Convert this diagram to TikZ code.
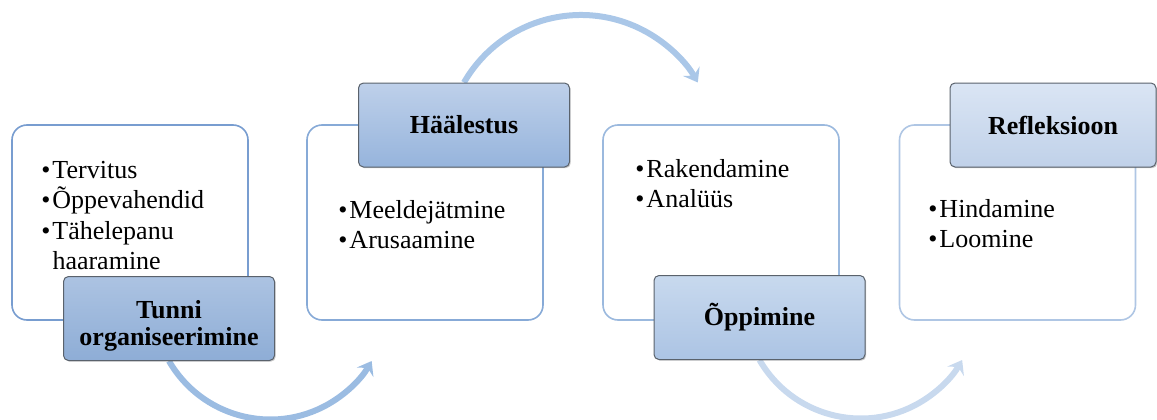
\documentclass[tikz,border=0pt]{standalone}
\usepackage{fontspec}
\setmainfont{Liberation Serif}
\usetikzlibrary{arrows.meta,shadows}

% card outlines
\definecolor{cardA}{RGB}{120,157,208}
\definecolor{cardB}{RGB}{135,170,215}
\definecolor{cardC}{RGB}{155,185,222}
\definecolor{cardD}{RGB}{175,198,228}
% stage headers (top / bottom of the gradient)
\definecolor{stAtop}{RGB}{172,195,226}
\definecolor{stAbot}{RGB}{142,173,214}
\definecolor{stBtop}{RGB}{190,208,234}
\definecolor{stBbot}{RGB}{150,180,220}
\definecolor{stCtop}{RGB}{200,217,238}
\definecolor{stCbot}{RGB}{172,196,228}
\definecolor{stDtop}{RGB}{218,229,244}
\definecolor{stDbot}{RGB}{192,209,233}
\definecolor{stageline}{RGB}{90,98,108}
% curved flow arrows
\definecolor{flowA}{RGB}{155,188,226}
\definecolor{flowB}{RGB}{170,199,232}
\definecolor{flowC}{RGB}{200,217,238}

\pgfdeclarelayer{background}
\pgfsetlayers{background,main}

\begin{document}
\begin{tikzpicture}[x=0.5pt,y=0.5pt,
  card/.style={draw=#1, line width=0.8pt, fill=white, rounded corners=7.5pt,
    minimum width=118pt, minimum height=97.5pt, inner sep=0pt},
  stage/.style={draw=stageline, line width=0.5pt, rounded corners=2.5pt,
    minimum width=105.5pt, minimum height=42pt, inner sep=0pt, align=center,
    font=\fontsize{13}{13.2}\selectfont\bfseries,
    drop shadow={shadow xshift=0.6pt, shadow yshift=-0.6pt, opacity=0.3, fill=black!70}},
  stagetext/.style={inner sep=0pt, align=center, font=\fontsize{13}{13.4}\selectfont\bfseries},
  items/.style={anchor=base west, inner sep=0pt, font=\fontsize{13}{15.2}\selectfont},
  flow/.style={line width=3pt, draw=#1,
    -{Stealth[length=6.5pt, width=9.5pt, inset=2.5pt]}}]

\useasboundingbox (0,0) rectangle (1157,419);

% white cards
\node[card=cardA] (c1) at (130,196.5) {};
\node[card=cardB] (c2) at (425,196.5) {};
\node[card=cardC] (c3) at (721,196.5) {};
\node[card=cardD] (c4) at (1017.5,196.5) {};

% bullet lists
\node[items] (t1) at (41,241) {\begin{tabular}[t]{@{}l@{\hspace{1pt}}l@{}}
  •&Tervitus\\ •&Õppevahendid\\ •&Tähelepanu\\ &haaramine\end{tabular}};
\node[items] (t2) at (338,201) {\begin{tabular}[t]{@{}l@{\hspace{1pt}}l@{}}
  •&Meeldejätmine\\ •&Arusaamine\end{tabular}};
\node[items] (t3) at (635,242) {\begin{tabular}[t]{@{}l@{\hspace{1pt}}l@{}}
  •&Rakendamine\\ •&Analüüs\end{tabular}};
\node[items] (t4) at (928,202) {\begin{tabular}[t]{@{}l@{\hspace{1pt}}l@{}}
  •&Hindamine\\ •&Loomine\end{tabular}};

% stage headers
\node[stage, top color=stAtop, bottom color=stAbot] (l1) at (169,100.5) {};
\node[stagetext] (l1t) at ([yshift=-3.5pt]l1.center) {Tunni\\organiseerimine};
\node[stage, top color=stBtop, bottom color=stBbot] (l2) at (464,294) {Häälestus};
\node[stage, top color=stCtop, bottom color=stCbot] (l3) at (759.5,101.5) {Õppimine};
\node[stage, top color=stDtop, bottom color=stDbot, minimum width=103pt] (l4) at (1053,294) {Refleksioon};

% arrows between the stages
\begin{pgfonlayer}{background}
  \draw[flow=flowA] (l1.south) arc[start angle=210, end angle=330, radius=58.5pt];
  \draw[flow=flowB] (l2.north) arc[start angle=150, end angle=30, radius=67.5pt];
  \draw[flow=flowC] (l3.south) arc[start angle=210, end angle=330, radius=58.5pt];
\end{pgfonlayer}
\end{tikzpicture}
\end{document}
